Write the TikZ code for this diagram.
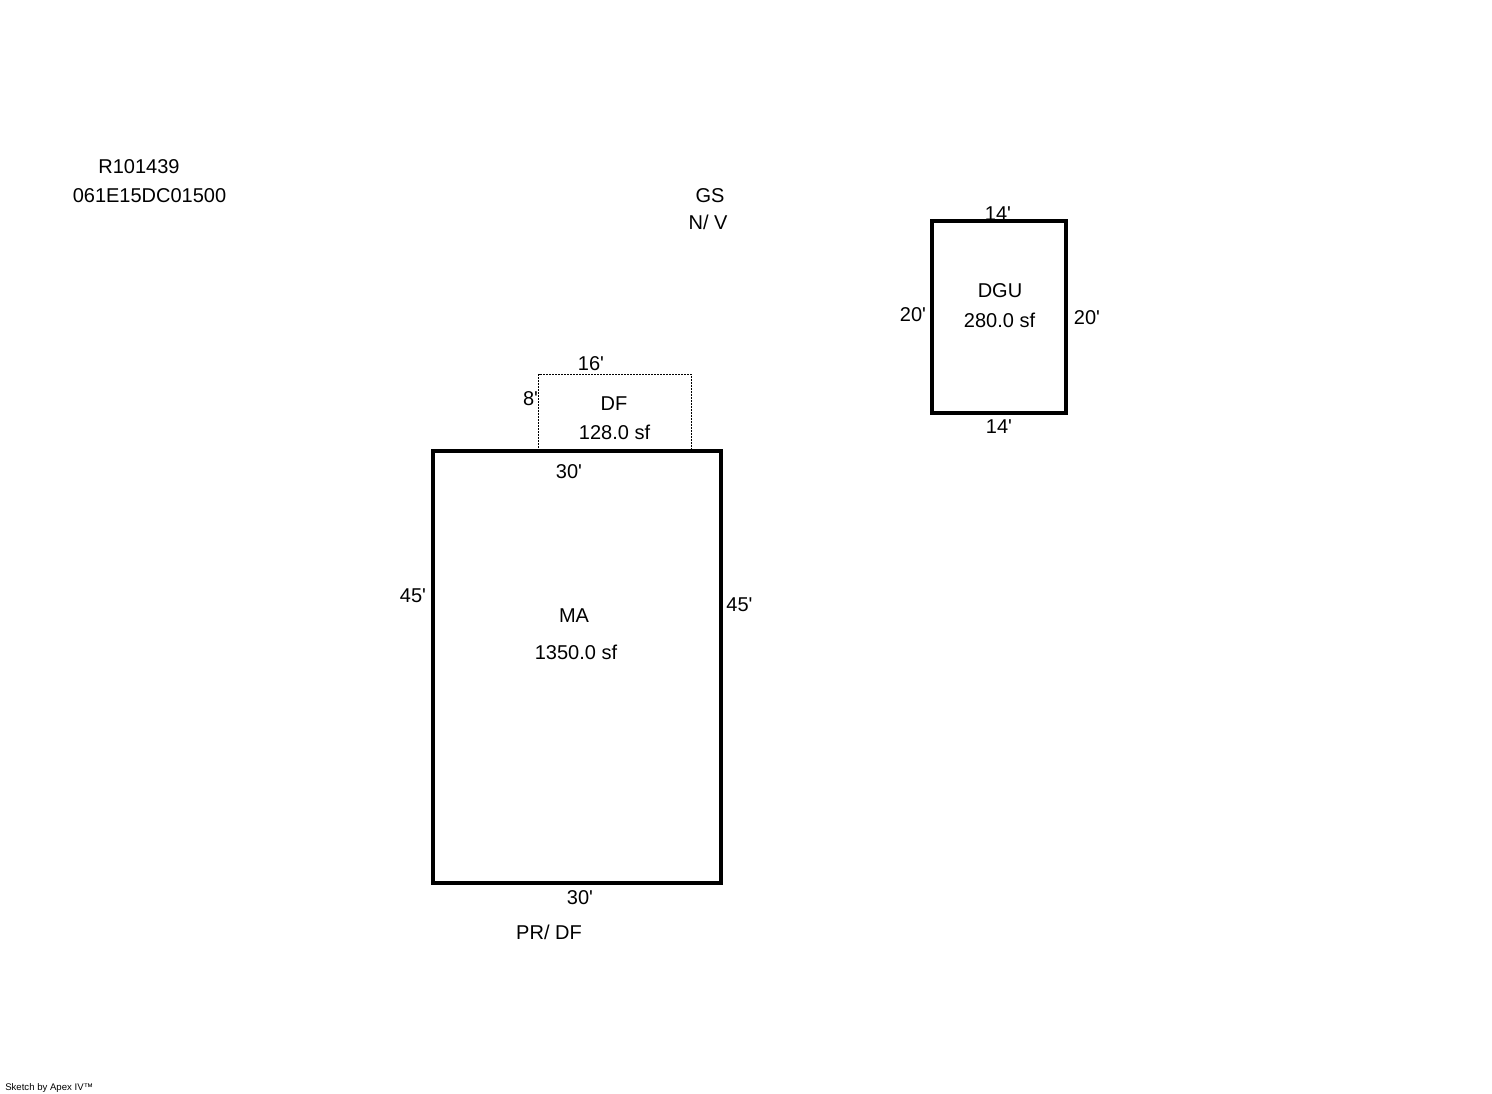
\documentclass[tikz,border=0pt]{standalone}
\usepackage{fontspec}
\newfontfamily\sketchfont{Liberation Sans}
\tikzset{%
  label/.style={inner sep=0pt, font=\sketchfont\fontsize{15}{18}\selectfont},% sketch text
  credit/.style={inner sep=0pt, anchor=west, font=\sketchfont\fontsize{7.2}{8}\selectfont},% small print
  wall/.style={draw=black, line width=3pt, line join=miter},% solid outline
  deck/.style={draw=black, line width=0.75pt, dash pattern=on 1.5pt off 0.75pt}% dotted outline
}
\begin{document}
\begin{tikzpicture}[x=0.75pt, y=-0.75pt]
\useasboundingbox (0, 0) rectangle (1492, 1094);

\draw[deck] (538.5, 451) -- (538.5, 374.5) -- (691.5, 374.5) -- (691.5, 451);
\draw[wall] (433, 451) rectangle (721, 883);
\draw[wall] (932, 221) rectangle (1066, 413);

\node[label] (parcel) at (139, 166.5) {R101439};
\node[label] (account) at (149.5, 195.5) {061E15DC01500};
\node[label] (gs) at (710, 195.5) {GS};
\node[label] (nv) at (708, 222) {N/ V};

\node[label] (dgutop) at (998, 213.5) {14'};
\node[label] (dguleft) at (913, 314.5) {20'};
\node[label] (dguright) at (1087, 318) {20'};
\node[label] (dgubottom) at (999, 427) {14'};
\node[label] (dgu) at (1000, 291) {DGU};
\node[label] (dguarea) at (999.5, 320.5) {280.0 sf};

\node[label] (dftop) at (591, 364) {16'};
\node[label] (dfleft) at (530.5, 399) {8'};
\node[label] (df) at (614, 404) {DF};
\node[label] (dfarea) at (614.5, 432) {128.0 sf};

\node[label] (matop) at (569, 472) {30'};
\node[label] (maleft) at (413, 596) {45'};
\node[label] (maright) at (739.5, 605) {45'};
\node[label] (ma) at (574, 616) {MA};
\node[label] (maarea) at (576, 652) {1350.0 sf};
\node[label] (mabottom) at (580, 898) {30'};
\node[label] (porch) at (549, 932) {PR/ DF};

\node[credit] (sketch) at (5, 1088) {Sketch by Apex IV™};
\end{tikzpicture}
\end{document}
